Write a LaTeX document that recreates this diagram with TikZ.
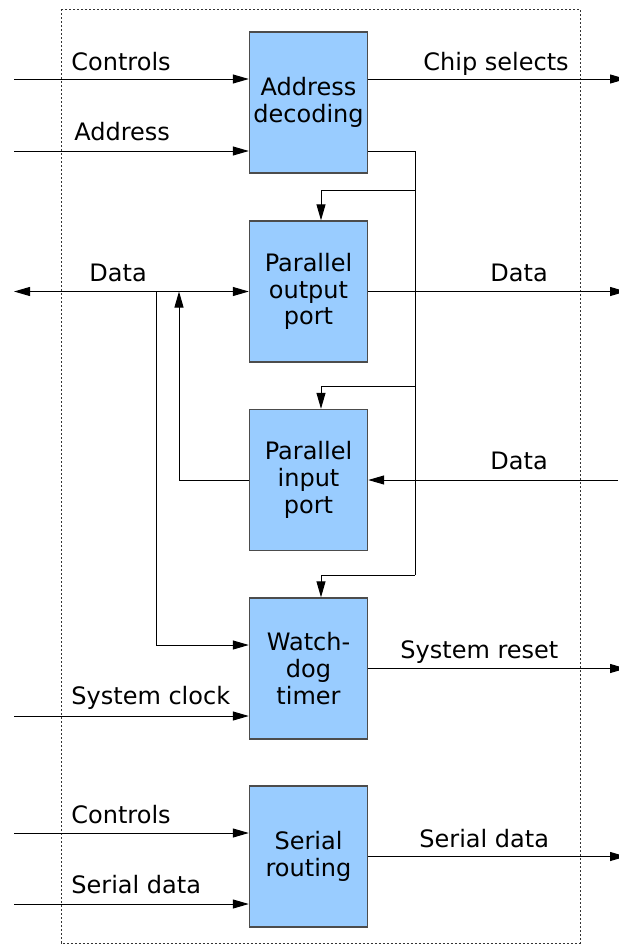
\documentclass[tikz,border=0pt]{standalone}
\usepackage{fontspec}
\setmainfont{DejaVu Sans}
\usetikzlibrary{arrows.meta}

\begin{document}
\begin{tikzpicture}[x=0.5pt,y=-0.5pt,
    block/.style={draw=black!70,line width=0.7pt,fill={rgb,255:red,153;green,204;blue,255},minimum width=59pt,minimum height=70.5pt,inner sep=0pt,align=center,font=\fontsize{12}{13.4}\selectfont},
    lbl/.style={anchor=base west,inner sep=0pt,font=\fontsize{12}{13.4}\selectfont},
    wire/.style={line width=0.5pt},
    arr/.style={-{Triangle[length=8pt,width=4.5pt]}},
    arrboth/.style={{Triangle[length=8pt,width=4.5pt]}-{Triangle[length=8pt,width=4.5pt]}},
    frame/.style={draw=black!80,line width=0.4pt,dash pattern=on 1.2pt off 0.8pt}]
    \useasboundingbox (0,0) rectangle (618,948);
    \draw[frame] (61,9) rectangle (580,943);

    \node[block] at (308.5,102.5) (addr) {Address\\decoding};
    \node[block] at (308.5,291.5) (outp) {Parallel\\output\\port};
    \node[block] at (308.5,480) (inp) {Parallel\\input\\port};
    \node[block] at (308.5,668.5) (wdt) {Watch-\\dog\\timer};
    \node[block] at (308.5,856.5) (srt) {Serial\\routing};

    \coordinate (ctlin) at (14,79);
    \coordinate (adrin) at (14,151);
    \coordinate (csout) at (626,79);
    \coordinate (b0) at (415,151);
    \coordinate (b1) at (415,190);
    \coordinate (b2) at (415,386);
    \coordinate (b3) at (415,575);
    \coordinate (dleft) at (14,291.5);
    \coordinate (dout) at (626,291.5);
    \coordinate (tap) at (156,291.5);
    \coordinate (ret) at (179,291.5);
    \coordinate (din) at (618,480);
    \coordinate (clkin) at (14,716);
    \coordinate (rstout) at (626,668.5);
    \coordinate (sctlin) at (14,833);
    \coordinate (sdin) at (14,904);
    \coordinate (sdout) at (626,856.5);

    \draw[wire,arr] (ctlin) -- (ctlin -| addr.west);
    \draw[wire,arr] (adrin) -- (adrin -| addr.west);
    \draw[wire,arr] (csout -| addr.east) -- (csout);
    \draw[wire] (adrin -| addr.east) -- (b0) -- (b3);
    \draw[wire,arr] (b1) -| ([xshift=6.25pt]outp.north);
    \draw[wire,arr] (b2) -| ([xshift=6.25pt]inp.north);
    \draw[wire,arr] (b3) -| ([xshift=6.25pt]wdt.north);

    \draw[wire,arrboth] (dleft) -- (outp.west);
    \draw[wire,arr] (outp.east) -- (dout);
    \draw[wire,arr] (tap) |- ([yshift=11.75pt]wdt.west);
    \draw[wire,arr] (din) -- (inp.east);
    \draw[wire,arr] (inp.west) -| (ret);

    \draw[wire,arr] (clkin) -- (clkin -| wdt.west);
    \draw[wire,arr] (wdt.east) -- (rstout);
    \draw[wire,arr] (sctlin) -- (sctlin -| srt.west);
    \draw[wire,arr] (sdin) -- (sdin -| srt.west);
    \draw[wire,arr] (srt.east) -- (sdout);

    \node[lbl] at (71,70) (lctl) {Controls};
    \node[lbl] at (74,140) (ladr) {Address};
    \node[lbl] at (423,70) (lcs) {Chip selects};
    \node[lbl] at (89,281) (ldl) {Data};
    \node[lbl] at (490,281) (ldo) {Data};
    \node[lbl] at (490,469) (ldi) {Data};
    \node[lbl] at (400,658) (lrst) {System reset};
    \node[lbl] at (71,704) (lclk) {System clock};
    \node[lbl] at (71,823) (lsctl) {Controls};
    \node[lbl] at (71,893) (lsdi) {Serial data};
    \node[lbl] at (419,847) (lsdo) {Serial data};
  \end{tikzpicture}
\end{document}
